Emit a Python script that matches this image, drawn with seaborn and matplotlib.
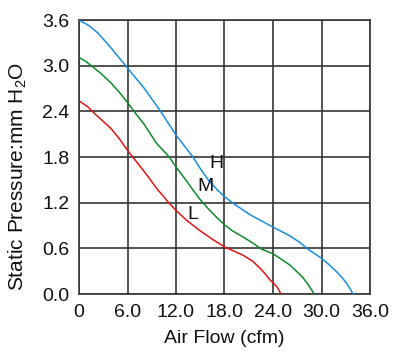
import pandas as pd
import matplotlib
matplotlib.use('Agg')
import matplotlib.pyplot as plt
import seaborn as sns
import numpy as np

# fan curves (air flow cfm, static pressure mmH2O)
h_flow = [0, 1.2, 2.35, 4.0, 6.0, 8.1, 10.1, 12.0, 14.1, 15.0, 16.0, 17.1, 18.0, 19.1, 21.2, 24.0,
          26.0, 27.3, 28.2, 30.0, 31.0, 31.9, 32.6, 33.1, 33.6, 33.9]
h_pres = [3.60, 3.53, 3.43, 3.23, 2.97, 2.70, 2.40, 2.09, 1.80, 1.65, 1.50, 1.37, 1.28, 1.19, 1.04, 0.88,
          0.77, 0.68, 0.60, 0.47, 0.38, 0.29, 0.21, 0.14, 0.06, 0.0]

m_flow = [0, 0.8, 1.53, 2.7, 4.0, 5.0, 6.06, 7.1, 8.0, 9.6, 11.17, 12.0, 13.0, 13.94, 15.0, 16.0, 17.0,
          18.0, 19.0, 20.3, 21.5, 22.6, 24.0, 25.0, 26.1, 27.0, 27.75, 28.3, 28.8, 29.1]
m_pres = [3.11, 3.06, 3.0, 2.9, 2.77, 2.65, 2.51, 2.36, 2.24, 1.98, 1.80, 1.67, 1.53, 1.39, 1.24, 1.12, 1.01,
          0.91, 0.83, 0.75, 0.67, 0.59, 0.53, 0.46, 0.38, 0.29, 0.21, 0.13, 0.05, 0.0]

l_flow = [0, 1.1, 2.14, 3.0, 4.0, 5.0, 6.0, 7.55, 8.5, 9.6, 10.4, 11.1, 12.0, 13.3, 15.0, 16.5, 18.0,
          20.3, 21.5, 22.4, 23.0, 23.6, 24.45, 24.8, 24.95]
l_pres = [2.54, 2.46, 2.35, 2.27, 2.17, 2.04, 1.89, 1.68, 1.55, 1.39, 1.29, 1.20, 1.10, 0.97, 0.83, 0.72, 0.62,
          0.51, 0.43, 0.34, 0.27, 0.19, 0.10, 0.04, 0.0]

x_ticks = [0, 6, 12, 18, 24, 30, 36]
x_labels = ['0', '6.0', '12.0', '18.0', '24.0', '30.0', '36.0']
y_ticks = [0, 0.6, 1.2, 1.8, 2.4, 3.0, 3.6]
y_labels = ['0.0', '0.6', '1.2', '1.8', '2.4', '3.0', '3.6']

df = pd.concat([
    pd.DataFrame({'flow': h_flow, 'pres': h_pres, 'speed': 'H'}),
    pd.DataFrame({'flow': m_flow, 'pres': m_pres, 'speed': 'M'}),
    pd.DataFrame({'flow': l_flow, 'pres': l_pres, 'speed': 'L'}),
])

sns.set_style('white')
plt.rcParams['font.family'] = ['Liberation Sans', 'DejaVu Sans']
plt.rcParams['mathtext.fontset'] = 'custom'
plt.rcParams['mathtext.rm'] = 'Liberation Sans'

fig = plt.figure(figsize=(4, 3.53), dpi=100)
ax = fig.add_axes([0.1975, 0.167, 0.7275, 0.776])

grid_col = '#363636'
ax = sns.lineplot(data=df, x='flow', y='pres', hue='speed', sort=False, estimator=None,
                  palette={'H': '#1a8ce0', 'M': '#0e8a2a', 'L': '#e01414'},
                  linewidth=1.1, legend=False, ax=ax, zorder=3)

ax.set_xlim(0, 36)
ax.set_ylim(0, 3.6)
ax.set_xticks(x_ticks)
ax.set_xticklabels(x_labels)
ax.set_yticks(y_ticks)
ax.set_yticklabels(y_labels)
ax.tick_params(length=0, labelsize=14, pad=7, colors='#111111')
ax.grid(True, color=grid_col, linewidth=1.2)
for s in ax.spines.values():
    s.set_color(grid_col)
    s.set_linewidth(1.2)

ax.set_xlabel('Air Flow (cfm)', fontsize=14, labelpad=7, color='#111111')
ax.set_ylabel(r'Static Pressure:mm H$\mathregular{_2}$O', fontsize=15, color='#111111')
ax.yaxis.set_label_coords(-0.172, 0.43)

ax.text(17.0, 1.72, 'H', fontsize=14, ha='center', va='center', color='#111111')
ax.text(15.7, 1.41, 'M', fontsize=14, ha='center', va='center', color='#111111')
ax.text(14.1, 1.05, 'L', fontsize=14, ha='center', va='center', color='#111111')

plt.savefig('out.png', dpi=100)
